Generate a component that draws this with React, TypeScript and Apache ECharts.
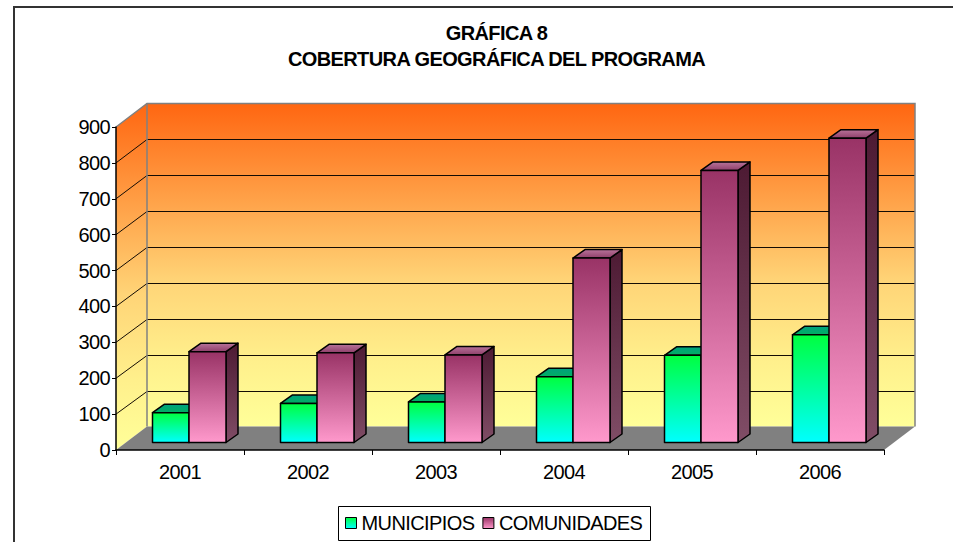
import React, { useEffect, useRef } from "react";
import * as echarts from "echarts";

const categories = ["2001", "2002", "2003", "2004", "2005", "2006"];
const municipios = [83, 109, 113, 183, 243, 300];
const comunidades = [253, 250, 244, 514, 758, 848];
const yTicks = [0, 100, 200, 300, 400, 500, 600, 700, 800, 900];
const titleText = "GRÁFICA 8\nCOBERTURA GEOGRÁFICA DEL PROGRAMA";

const FONT = "'Liberation Sans', Arial, sans-serif";
const WALL_DX = 31;
const WALL_DY = -23.5;
const BAR_SHIFT_X = 9.5;
const BAR_SHIFT_Y = -7.5;
const DEPTH_X = 12;
const DEPTH_Y = -8.5;

const vGrad = (stops: [number, string][]) =>
  new echarts.graphic.LinearGradient(0, 0, 0, 1, stops.map(([offset, color]) => ({ offset, color })));

const wallStops: [number, string][] = [
  [0, "#ff6611"],
  [0.55, "#ffd477"],
  [0.8, "#fff08c"],
  [1, "#ffff99"],
];

const renderWalls = (_p: any, api: any) => {
  const band = api.size([1, 0])[0];
  const x0 = api.coord([0, 0])[0] - band / 2;
  const x1 = api.coord([categories.length - 1, 0])[0] + band / 2;
  const y0 = api.coord([0, 0])[1];
  const yT = api.coord([0, yTicks[yTicks.length - 1]])[1];
  const bx0 = x0 + WALL_DX;
  const bx1 = x1 + WALL_DX;
  const by0 = y0 + WALL_DY;
  const byT = yT + WALL_DY;
  const children: any[] = [
    {
      type: "polygon",
      shape: { points: [[x0, y0], [bx0, by0], [bx0, byT], [x0, yT]] },
      style: { fill: vGrad(wallStops), stroke: "none" },
    },
    {
      type: "rect",
      shape: { x: bx0, y: byT, width: bx1 - bx0, height: by0 - byT },
      style: { fill: vGrad(wallStops), stroke: "none" },
    },
    {
      type: "polygon",
      shape: { points: [[x0, y0], [bx0, by0], [bx1, by0], [x1, y0]] },
      style: { fill: "#808080", stroke: "none" },
    },
  ];
  yTicks.forEach((t) => {
    if (t === 0 || t === yTicks[yTicks.length - 1]) return;
    const y = api.coord([0, t])[1];
    const yb = Math.round(y + WALL_DY) + 0.5;
    children.push({
      type: "polyline",
      shape: { points: [[x0, y], [bx0, yb], [bx1, yb]] },
      style: { fill: "none", stroke: "#140c04", lineWidth: 1 },
    });
  });
  children.push({
    type: "polyline",
    shape: { points: [[x0, yT], [bx0, byT], [bx1, byT], [bx1, by0]] },
    style: { fill: "none", stroke: "#808080", lineWidth: 1.5 },
  });
  children.push({
    type: "line",
    shape: { x1: bx0, y1: byT, x2: bx0, y2: by0 },
    style: { stroke: "#808080", lineWidth: 1.5 },
  });
  return { type: "group", children };
};

const makeBar = (
  offsetL: number,
  offsetR: number,
  front: [number, string][],
  side: [number, string][],
  top: [number, string][],
) => (_p: any, api: any) => {
  const idx = api.value(0);
  const val = api.value(1);
  const [cx, yTop] = api.coord([idx, val]);
  const yBase = api.coord([idx, 0])[1];
  const l = cx + BAR_SHIFT_X + offsetL;
  const r = cx + BAR_SHIFT_X + offsetR;
  const t = yTop + BAR_SHIFT_Y;
  const b = yBase + BAR_SHIFT_Y;
  const stroke = { stroke: "#000", lineWidth: 1.5, lineJoin: "round" };
  return {
    type: "group",
    children: [
      {
        type: "polygon",
        shape: { points: [[r, t], [r + DEPTH_X, t + DEPTH_Y], [r + DEPTH_X, b + DEPTH_Y], [r, b]] },
        style: { fill: vGrad(side), ...stroke },
      },
      {
        type: "polygon",
        shape: { points: [[l, t], [l + DEPTH_X, t + DEPTH_Y], [r + DEPTH_X, t + DEPTH_Y], [r, t]] },
        style: { fill: vGrad(top), ...stroke },
      },
      {
        type: "rect",
        shape: { x: l, y: t, width: r - l, height: b - t },
        style: { fill: vGrad(front), ...stroke },
      },
    ],
  };
};

const muniFront: [number, string][] = [[0, "#00ff40"], [1, "#00ffff"]];
const muniSide: [number, string][] = [[0, "#008040"], [1, "#008080"]];
const muniTop: [number, string][] = [[0, "#00a080"], [1, "#00b060"]];
const comFront: [number, string][] = [[0, "#993366"], [1, "#ff99cc"]];
const comSide: [number, string][] = [[0, "#4d1a33"], [1, "#804d66"]];
const comTop: [number, string][] = [[0, "#b8739a"], [1, "#8f3f6a"]];

export default function App() {
  const ref = useRef<HTMLDivElement>(null);
  useEffect(() => {
    document.body.style.margin = "0";
    const chart = echarts.init(ref.current!, undefined, { renderer: "svg" });
    chart.setOption({
      animation: false,
      backgroundColor: "#ffffff",
      graphic: [
        {
          type: "polyline",
          silent: true,
          z: 0,
          shape: { points: [[14, 542], [14, 7], [953, 7]] },
          style: { fill: "none", stroke: "#333333", lineWidth: 2 },
        },
        {
          type: "rect",
          silent: true,
          z: 0,
          shape: { x: 338.5, y: 506.5, width: 312, height: 34 },
          style: { fill: "#fff", stroke: "#000", lineWidth: 1 },
        },
      ],
      title: {
        text: titleText,
        left: 491.5,
        top: 15,
        textAlign: "center",
        textStyle: {
          fontFamily: FONT,
          fontSize: 20,
          fontWeight: "bold",
          color: "#000",
          lineHeight: 26,
        },
      },
      legend: {
        left: 338,
        top: 505,
        padding: [8, 2, 8, 7],
        itemGap: 2,
        itemWidth: 11,
        itemHeight: 11,
        borderWidth: 0,
        selectedMode: false,
        textStyle: { fontFamily: FONT, fontSize: 20, color: "#000" },
        data: [
          {
            name: "MUNICIPIOS",
            icon: "rect",
            itemStyle: { color: vGrad(muniFront), borderColor: "#000", borderWidth: 1 },
          },
          {
            name: "COMUNIDADES",
            icon: "rect",
            itemStyle: { color: vGrad(comFront), borderColor: "#000", borderWidth: 1 },
          },
        ],
      },
      grid: { left: 116, right: 69, top: 127, bottom: 92, containLabel: false },
      xAxis: {
        type: "category",
        data: categories,
        z: 10,
        axisLine: { lineStyle: { color: "#000", width: 1.5 } },
        axisTick: { show: true, length: 5, alignWithLabel: false, lineStyle: { color: "#000" } },
        axisLabel: { fontFamily: FONT, fontSize: 20, color: "#000", margin: 12 },
        splitLine: { show: false },
      },
      yAxis: {
        type: "value",
        min: 0,
        max: 900,
        interval: 100,
        z: 10,
        axisLine: { show: true, lineStyle: { color: "#000", width: 1.5 } },
        axisTick: { show: true, length: 4, lineStyle: { color: "#000" } },
        axisLabel: { fontFamily: FONT, fontSize: 20, color: "#000", margin: 6 },
        splitLine: { show: false },
      },
      series: [
        {
          type: "custom",
          name: "walls",
          silent: true,
          z: 1,
          data: [[0, 0]],
          encode: { x: 0, y: 1 },
          renderItem: renderWalls,
        },
        {
          type: "custom",
          name: "MUNICIPIOS",
          z: 2,
          data: municipios.map((v, i) => [i, v]),
          encode: { x: 0, y: 1 },
          itemStyle: { color: "#00ff80" },
          renderItem: makeBar(-37, -0.5, muniFront, muniSide, muniTop),
        },
        {
          type: "custom",
          name: "COMUNIDADES",
          z: 3,
          data: comunidades.map((v, i) => [i, v]),
          encode: { x: 0, y: 1 },
          itemStyle: { color: "#cc6699" },
          renderItem: makeBar(-0.5, 36.5, comFront, comSide, comTop),
        },
      ],
    });
    return () => chart.dispose();
  }, []);
  return <div ref={ref} style={{ width: 953, height: 542, letterSpacing: "-0.6px" }} />;
}
